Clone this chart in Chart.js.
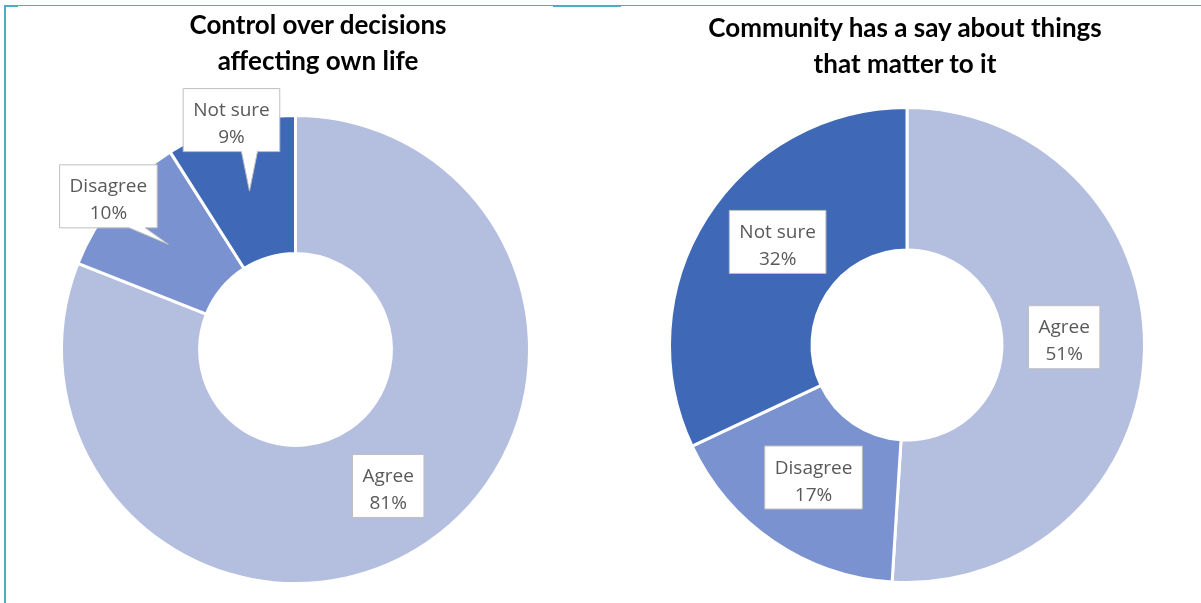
<!DOCTYPE html>
<html>
<head>
<meta charset="utf-8">
<title>Decisions and community say</title>
<script src="https://cdn.jsdelivr.net/npm/chart.js@4.4.1/dist/chart.umd.min.js"></script>
<style>
  body { margin: 0; background: #fff; }
  #wrap { position: relative; width: 1201px; height: 603px; overflow: hidden; background: #fff; }
  .frame { position: absolute; left: 4px; top: 5px; right: 0; bottom: -2px;
           border-left: 2px solid #4BACC6; border-top: 1px solid #4BACC6; }
  .handle { position: absolute; top: 5px; height: 2px; background: #4BACC6; }
  canvas { position: absolute; top: 0; }
  .title { position: absolute; width: 500px; text-align: center; white-space: nowrap;
           font-family: Lato, sans-serif; font-weight: bold; font-size: 26px;
           line-height: 36px; color: #000; }
</style>
</head>
<body>
<div id="wrap">
  <div class="frame"></div>
  <div class="handle" style="left:4px;width:14px"></div>
  <div class="handle" style="left:553px;width:68px"></div>
  <canvas id="controlChart" width="600" height="603" style="left:0"></canvas>
  <canvas id="sayChart" width="601" height="603" style="left:600px"></canvas>
  <div class="title" id="controlTitle" style="left:68px;top:6px"></div>
  <div class="title" id="sayTitle" style="left:655px;top:9px"></div>
</div>
<script>
// survey answers, percent of respondents
const categories = ['Agree', 'Disagree', 'Not sure'];
const controlValues = [81, 10, 9];
const sayValues = [51, 17, 32];
const sliceColors = ['#B4BFDF', '#7A93D0', '#3F69B6'];

const controlTitle = ['Control over decisions', 'affecting own life'];
const sayTitle = ['Community has a say about things', 'that matter to it'];

// how far each label box sits from the middle of its slice (px)
const controlLabelShift = [[0, 0], [-60, -48], [-18, -71]];
const sayLabelShift = [[-9, -13], [0, -5], [11, -14]];

document.getElementById('controlTitle').innerHTML = controlTitle.join('<br>');
document.getElementById('sayTitle').innerHTML = sayTitle.join('<br>');

// white label boxes, with a pointer when the box was pulled off its slice
const calloutLabels = {
    id: 'calloutLabels',
    afterDatasetsDraw(chart, args, opts) {
        const ctx = chart.ctx;
        const values = chart.data.datasets[0].data;
        const total = values.reduce((a, b) => a + b, 0);
        ctx.save();
        ctx.font = '19px "Open Sans"';
        chart.getDatasetMeta(0).data.forEach((arc, i) => {
            const anchor = arc.getCenterPoint();
            const shift = opts.shift[i] || [0, 0];
            const lines = [chart.data.labels[i], Math.round(values[i] / total * 100) + '%'];
            const w = Math.max(...lines.map(t => ctx.measureText(t).width)) + 20;
            const h = 63;
            const cx = anchor.x + shift[0];
            const cy = anchor.y + shift[1];
            const left = cx - w / 2, right = cx + w / 2;
            const top = cy - h / 2, bottom = cy + h / 2;

            ctx.beginPath();
            ctx.moveTo(left, top);
            ctx.lineTo(right, top);
            ctx.lineTo(right, bottom);
            if (anchor.y > bottom + 4) {
                // pointer leaves from the bottom edge
                const base = Math.min(Math.max(anchor.x, left + 20), right - 20);
                ctx.lineTo(base + 8, bottom);
                ctx.lineTo(anchor.x, anchor.y);
                ctx.lineTo(base - 8, bottom);
            }
            ctx.lineTo(left, bottom);
            ctx.closePath();
            ctx.fillStyle = '#fff';
            ctx.fill();
            ctx.strokeStyle = '#BFBFBF';
            ctx.lineWidth = 1;
            ctx.stroke();

            ctx.fillStyle = '#595959';
            ctx.textAlign = 'center';
            ctx.textBaseline = 'alphabetic';
            ctx.fillText(lines[0], cx, cy - 4);
            ctx.fillText(lines[1], cx, cy + 23);
        });
        ctx.restore();
    }
};

function makeDoughnut(canvasId, values, shift, cutout, padding) {
    const ctx = document.getElementById(canvasId).getContext('2d');
    return new Chart(ctx, {
        type: 'doughnut',
        data: {
            labels: categories,
            datasets: [{
                data: values,
                backgroundColor: sliceColors,
                borderColor: '#fff',
                borderWidth: 3
            }]
        },
        options: {
            responsive: false,
            animation: false,
            events: [],
            cutout: cutout,
            layout: { padding: padding },
            plugins: {
                legend: { display: false },
                tooltip: { enabled: false },
                calloutLabels: { shift: shift }
            }
        },
        plugins: [calloutLabels]
    });
}

makeDoughnut('controlChart', controlValues, controlLabelShift, '41%',
    { left: 60, right: 69, top: 114, bottom: 18 });
makeDoughnut('sayChart', sayValues, sayLabelShift, '40%',
    { left: 68, right: 55, top: 106, bottom: 19 });
</script>
</body>
</html>
